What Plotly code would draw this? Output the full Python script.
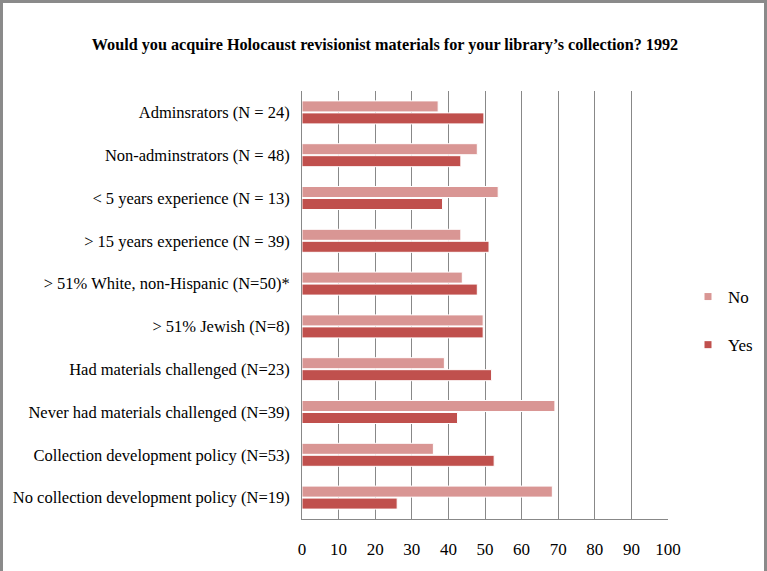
import plotly.graph_objects as go

categories = [
    "Adminsrators (N = 24)",
    "Non-adminstrators (N = 48)",
    "< 5 years experience (N = 13)",
    "> 15 years experience (N = 39)",
    "> 51% White, non-Hispanic (N=50)*",
    "> 51% Jewish (N=8)",
    "Had materials challenged (N=23)",
    "Never had materials challenged (N=39)",
    "Collection development policy (N=53)",
    "No collection development policy (N=19)",
]
no_values = [37.2, 47.9, 53.6, 43.4, 43.8, 49.5, 38.9, 69.1, 35.9, 68.4]
yes_values = [49.7, 43.4, 38.4, 51.1, 47.9, 49.5, 51.8, 42.5, 52.5, 26.0]
x_ticks = [0, 10, 20, 30, 40, 50, 60, 70, 80, 90, 100]
series_names = ["No", "Yes"]
series_colors = ["#D99694", "#C0504D"]

FONT = "Liberation Serif"

fig = go.Figure()
for name, vals, col in zip(series_names, [no_values, yes_values], series_colors):
    fig.add_trace(go.Bar(
        y=categories, x=vals, name=name, orientation="h",
        marker=dict(color=col, line=dict(color="white", width=1)),
        showlegend=False,
    ))
# legend entries with small square markers
for name, col in zip(series_names, series_colors):
    fig.add_trace(go.Scatter(
        x=[None], y=[None], mode="markers", name=name,
        marker=dict(symbol="square", size=7, color=col),
        legendgroup=name, showlegend=True,
    ))

W, H = 767, 571
L, R, T, B = 302, 99, 91, 52
pw, ph = W - L - R, H - T - B

fig.update_layout(
    width=W, height=H,
    margin=dict(l=L, r=R, t=T, b=B, autoexpand=False),
    paper_bgcolor="white", plot_bgcolor="white",
    barmode="group", bargap=0.44, bargroupgap=0.08,
    title=dict(
        text="<b>Would you acquire Holocaust revisionist materials for your library’s collection? 1992</b>",
        x=385 / W, xref="container", xanchor="center",
        y=1 - 44 / H, yref="container", yanchor="middle",
        font=dict(family=FONT, size=16.2, color="black"),
    ),
    font=dict(family=FONT, size=16, color="black"),
    legend=dict(
        xref="container", yref="container",
        x=688 / W, y=1 - 279 / H,
        xanchor="left", yanchor="top",
        font=dict(family=FONT, size=17, color="black"),
        traceorder="grouped", tracegroupgap=23,
        bgcolor="rgba(0,0,0,0)",
        itemwidth=30,
    ),
    xaxis=dict(
        range=[0, 100], tickvals=x_ticks, ticktext=[str(v) for v in x_ticks],
        showgrid=True, gridcolor="#888888", gridwidth=1,
        showline=True, linecolor="#888888", linewidth=1,
        zeroline=False, ticks="", ticklabelstandoff=15,
        tickfont=dict(family=FONT, size=17),
        fixedrange=True, automargin=False,
    ),
    yaxis=dict(
        autorange="reversed", showline=True, linecolor="#888888", linewidth=1,
        showgrid=False, ticks="", ticklabelstandoff=8,
        tickfont=dict(family=FONT, size=16.5),
        fixedrange=True, automargin=False,
    ),
    shapes=[dict(
        type="rect", xref="paper", yref="paper",
        x0=(1.5 - L) / pw, x1=(765.5 - L) / pw,
        y0=(H - B - 600) / ph, y1=(H - B - 1.5) / ph,
        line=dict(color="#8a8a8a", width=3), fillcolor="rgba(0,0,0,0)",
        layer="below",
    )],
)

fig.write_html(
    "out.html",
    config={"displayModeBar": False},
    post_script="document.body.style.margin='0';document.body.style.overflow='hidden';",
)
